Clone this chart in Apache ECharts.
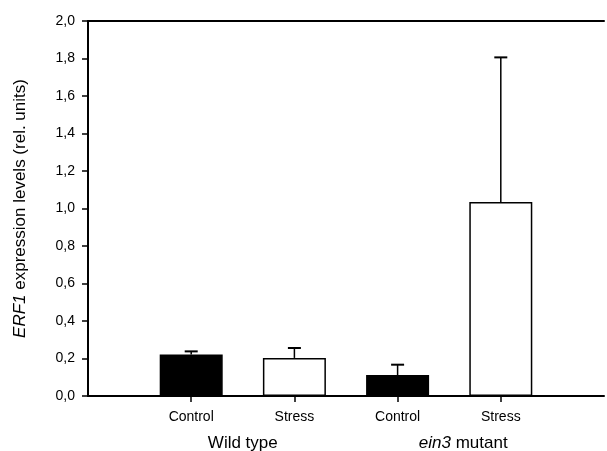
<!DOCTYPE html>
<html>
<head>
<meta charset="utf-8">
<script src="https://cdn.jsdelivr.net/npm/echarts@6/dist/echarts.min.js"></script>
<style>
  html, body { margin: 0; padding: 0; background: #fff; }
  #chart { width: 607px; height: 451px; }
</style>
</head>
<body>
<div id="chart"></div>
<script>
// ERF1 expression, wild type vs ein3 mutant, control vs stress
const conditions = ['Control', 'Stress', 'Control', 'Stress'];
const genotypes = ['Wild type', 'ein3 mutant'];
const means = [0.222, 0.203, 0.112, 1.035];
const errors = [0.016, 0.053, 0.055, 0.771];
const yTicks = { min: 0, max: 2, step: 0.2 };

const FONT = '"Liberation Sans", Arial, sans-serif';

// one empty slot on each side of the four bars
const axisCats = [''].concat(conditions, ['']);
const barData = axisCats.map((c, i) =>
  i === 0 || i === axisCats.length - 1 ? '-' : {
    value: means[i - 1],
    itemStyle: conditions[i - 1] === 'Control'
      ? { color: '#000', borderColor: '#000', borderWidth: 1.5 }
      : { color: '#fff', borderColor: '#000', borderWidth: 1.5 }
  });
const errData = means.map((m, i) => [i + 1, m, errors[i]]);

const chart = echarts.init(document.getElementById('chart'), null, { renderer: 'canvas' });

chart.setOption({
  animation: false,
  backgroundColor: '#fff',
  grid: { left: 88, right: -3, top: 21, bottom: 55 },
  xAxis: [{
    type: 'category',
    data: axisCats,
    boundaryGap: false,
    axisLine: { lineStyle: { color: '#000', width: 2 } },
    axisTick: {
      show: true, length: 6, lineStyle: { color: '#000', width: 1.5 },
      interval: (i) => i > 0 && i < axisCats.length - 1
    },
    axisLabel: {
      interval: 0, margin: 14, color: '#000', fontFamily: FONT, fontSize: 14
    },
    splitLine: { show: false }
  }, {
    type: 'category',
    position: 'top',
    data: axisCats,
    boundaryGap: false,
    axisLine: { lineStyle: { color: '#000', width: 2 } },
    axisTick: { show: false },
    axisLabel: { show: false }
  }],
  yAxis: {
    type: 'value',
    min: yTicks.min,
    max: yTicks.max,
    interval: yTicks.step,
    axisLine: { show: true, lineStyle: { color: '#000', width: 2 } },
    axisTick: { show: true, length: 6, lineStyle: { color: '#000', width: 1.5 } },
    axisLabel: {
      margin: 13, color: '#000', fontFamily: FONT, fontSize: 14,
      formatter: (v) => v.toFixed(1).replace('.', ',')
    },
    splitLine: { show: false },
    name: '{i|ERF1} expression levels (rel. units)',
    nameLocation: 'middle',
    nameGap: 59,
    nameTextStyle: {
      color: '#000', fontFamily: FONT, fontSize: 17,
      rich: { i: { fontStyle: 'italic', fontFamily: FONT, fontSize: 17, color: '#000' } }
    }
  },
  series: [{
    type: 'bar',
    data: barData,
    barWidth: 63,
    z: 2
  }, {
    type: 'custom',
    data: errData,
    z: 3,
    renderItem: (params, api) => {
      const x = api.value(0);
      const m = api.value(1);
      const e = api.value(2);
      const base = api.coord([x, m]);
      const top = api.coord([x, m + e]);
      const half = 6.5;
      const style = { stroke: '#000', lineWidth: 1.5, fill: null };
      return {
        type: 'group',
        children: [
          { type: 'line', shape: { x1: base[0], y1: base[1], x2: top[0], y2: top[1] }, style },
          { type: 'line', shape: { x1: top[0] - half, y1: top[1], x2: top[0] + half, y2: top[1] }, style: Object.assign({}, style, { lineWidth: 2 }) }
        ]
      };
    }
  }]
});

// genotype labels centred under each pair of bars
function groupLabels() {
  const xs = [
    (chart.convertToPixel({ xAxisIndex: 0 }, 1) + chart.convertToPixel({ xAxisIndex: 0 }, 2)) / 2,
    (chart.convertToPixel({ xAxisIndex: 0 }, 3) + chart.convertToPixel({ xAxisIndex: 0 }, 4)) / 2 + 14
  ];
  const texts = [genotypes[0], '{i|' + genotypes[1].split(' ')[0] + '} ' + genotypes[1].split(' ').slice(1).join(' ')];
  return texts.map((t, k) => ({
    type: 'text',
    x: xs[k],
    y: 443,
    style: {
      text: t,
      fill: '#000',
      font: '17px ' + FONT,
      align: 'center',
      verticalAlign: 'middle',
      rich: { i: { fontStyle: 'italic', fontSize: 17, fontFamily: FONT, fill: '#000' } }
    }
  }));
}
chart.setOption({ graphic: groupLabels() });
</script>
</body>
</html>
